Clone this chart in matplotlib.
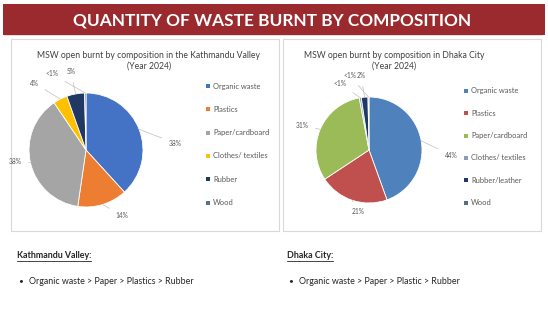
import matplotlib
matplotlib.use("Agg")
import matplotlib.pyplot as plt
from matplotlib.patches import Rectangle
from matplotlib.lines import Line2D
import numpy as np

plt.rcParams['font.family'] = ['Lato', 'DejaVu Sans']

W, H = 548, 327

# data
ktm_labels = ["Organic waste", "Plastics", "Paper/cardboard", "Clothes/ textiles", "Rubber", "Wood"]
ktm_values = [38, 14, 38, 4, 5, 0.4]
ktm_pct = ["38%", "14%", "38%", "4%", "5%", "<1%"]

dhk_labels = ["Organic waste", "Plastics", "Paper/cardboard", "Clothes/ textiles", "Rubber/leather", "Wood"]
dhk_values = [44, 21, 31, 0.6, 2, 0.3]
dhk_pct = ["44%", "21%", "31%", "<1%", "2%", "<1%"]

ktm_colors = ["#4472C4", "#ED7D31", "#A5A5A5", "#FFC000", "#203864", "#5B6F8F"]
dhk_colors = ["#4F81BD", "#C0504D", "#9BBB59", "#8C9BB8", "#1F3A68", "#5A6B86"]

ktm_order = "Organic waste > Paper > Plastics > Rubber"
dhk_order = "Organic waste > Paper > Plastic > Rubber"


def fx(x):
    return x / W


def fy(y):
    return 1 - y / H


fig = plt.figure(figsize=(W / 100, H / 100), dpi=100)
fig.patch.set_facecolor("white")

# title bar
fig.add_artist(Rectangle((fx(4), fy(36)), fx(543) - fx(4), fy(5) - fy(36), zorder=-2,
                         transform=fig.transFigure, facecolor="#E8D8D8", edgecolor="none"))
fig.add_artist(Rectangle((fx(3), fy(35)), fx(545) - fx(3), fy(4) - fy(35), zorder=-1,
                         transform=fig.transFigure, facecolor="#9B2A2E", edgecolor="none"))
fig.text(fx(272), fy(20), "QUANTITY OF WASTE BURNT BY COMPOSITION", color="white",
         fontsize=12.4, fontweight="bold", ha="center", va="center")

# chart boxes
for x0, x1 in [(11, 279), (283, 541)]:
    fig.add_artist(Rectangle((fx(x0), fy(231)), fx(x1) - fx(x0), fy(39) - fy(231), zorder=-1,
                             transform=fig.transFigure, facecolor="white",
                             edgecolor="#D9D9D9", linewidth=0.8))


def draw_pie(cx, cy, r, values, colors, pcts, label_pos):
    ax = fig.add_axes([fx(cx - r), fy(cy + r), 2 * r / W, 2 * r / H])
    ax.set_zorder(3)
    wedges, _ = ax.pie(values, colors=colors, startangle=90, counterclock=False,
                       wedgeprops=dict(edgecolor="white", linewidth=0.6))
    ax.set_xlim(-1, 1)
    ax.set_ylim(-1, 1)
    ax.axis("off")
    for w, txt, (lx, ly) in zip(wedges, pcts, label_pos):
        ang = np.deg2rad((w.theta1 + w.theta2) / 2)
        tx, ty = (lx - cx) / r, (cy - ly) / r
        ax.annotate(txt, xy=(np.cos(ang), np.sin(ang)), xytext=(tx, ty),
                    fontsize=4.8, color="#595959", ha="center", va="center",
                    annotation_clip=False,
                    arrowprops=dict(arrowstyle="-", color="#BFBFBF", lw=0.5,
                                    shrinkA=3, shrinkB=0))
    return ax


draw_pie(86, 150, 57, ktm_values, ktm_colors, ktm_pct,
         [(175, 143), (122, 216), (15, 162), (34, 83), (71, 72), (52, 74)])
draw_pie(369, 150, 53, dhk_values, dhk_colors, dhk_pct,
         [(451, 155), (358, 212), (302, 126), (340, 84), (361, 76), (350, 76)])

# chart titles
fig.text(fx(149), fy(56), "MSW open burnt by composition in the Kathmandu Valley",
         fontsize=6.2, color="#404040", ha="center", va="center")
fig.text(fx(149), fy(66), "(Year 2024)", fontsize=6.2, color="#404040", ha="center", va="center")
fig.text(fx(394), fy(56), "MSW open burnt by composition in Dhaka City",
         fontsize=6.2, color="#404040", ha="center", va="center")
fig.text(fx(394), fy(66), "(Year 2024)", fontsize=6.2, color="#404040", ha="center", va="center")


# legends
def draw_legend(x, y0, dy, labels, colors):
    for i, (lab, col) in enumerate(zip(labels, colors)):
        y = y0 + i * dy
        fig.add_artist(Rectangle((fx(x - 2), fy(y + 2)), 4 / W, 4 / H,
                                 transform=fig.transFigure, facecolor=col, edgecolor="none"))
        fig.text(fx(x + 5), fy(y), lab, fontsize=5.4, color="#595959", va="center", ha="left")


draw_legend(208, 86, 23.3, ktm_labels, ktm_colors)
draw_legend(466, 91, 22.3, dhk_labels, dhk_colors)

# bottom notes
renderer = fig.canvas.get_renderer()
for x, head, order in [(17, "Kathmandu Valley:", ktm_order), (287, "Dhaka City:", dhk_order)]:
    t = fig.text(fx(x), fy(256), head, fontsize=6.4, fontweight="bold", color="#262626",
                 va="center", ha="left")
    bb = t.get_window_extent(renderer)
    fig.add_artist(Line2D([bb.x0 / W, bb.x1 / W], [fy(261), fy(261)],
                          transform=fig.transFigure, color="#262626", lw=0.6))
    fig.text(fx(x + 1), fy(281), "\u2022", fontsize=6, color="#262626", va="center", ha="left")
    fig.text(fx(x + 12), fy(282), order, fontsize=6.4, color="#262626", va="center", ha="left")

fig.savefig("out.png", dpi=100)
